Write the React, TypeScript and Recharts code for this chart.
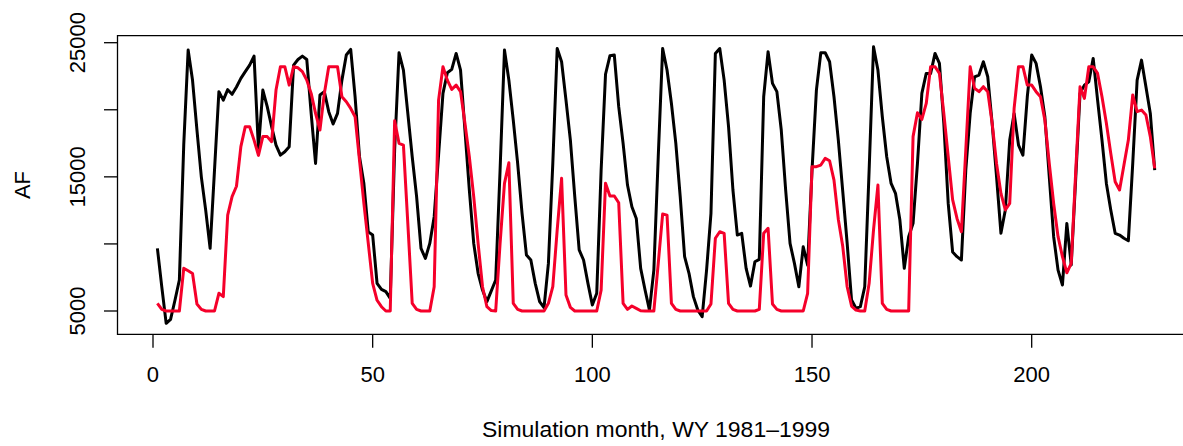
import { LineChart, Line, XAxis, YAxis, ReferenceArea } from 'recharts'

// monthly storage, AF
const blackAF = [
  9670, 6800, 4080, 4380, 5800, 7310, 17400, 24450, 22200, 18500,
  15000, 12500, 9670, 15500, 21350, 20720, 21500, 21150, 21700, 22340,
  22840, 23330, 24000, 17100, 21470, 20230, 18740, 17370, 16620, 16870,
  17250, 23330, 23750, 24000, 23750, 19730, 16000, 21100, 21350, 19860,
  18940, 19730, 22210, 24080, 24500, 20970, 16500, 14500, 10900, 10660,
  7060, 6610, 6440, 5940, 17000, 24250, 22960, 19730, 16500, 13520,
  9670, 8920, 10040, 12030, 16620, 21220, 22760, 23010, 24200, 22960,
  18490, 14020, 10040, 7810, 6560, 5700, 6500, 7310, 15500, 24450,
  22210, 19230, 16000, 12280, 9170, 8800, 7060, 5700, 5250, 8550,
  16000, 24570, 23580, 20720, 17740, 13520, 9550, 8800, 7060, 5450,
  6320, 15500, 22650, 24020, 24080, 20230, 17500, 14390, 12770, 11900,
  8180, 6560, 5070, 8050, 16500, 24570, 22960, 20470, 17500, 13520,
  9050, 7810, 6070, 5070, 4580, 8050, 12280, 24200, 24570, 22210,
  18740, 14020, 10660, 10790, 8180, 6860, 8670, 8850, 20970, 24330,
  21970, 21350, 18490, 14020, 10040, 8550, 6810, 9790, 8420, 15500,
  21470, 24250, 24250, 23580, 20970, 17700, 13900, 10040, 5820, 5200,
  5320, 6810, 15500, 24700, 22960, 19480, 16500, 14510, 13770, 11780,
  8180, 10540, 11530, 16000, 21220, 22710, 22710, 24200, 23460, 18990,
  13020, 9400, 9050, 8800, 15500, 19730, 22460, 22590, 23580, 22460,
  18990, 15010, 10790, 12530, 17740, 19730, 17370, 16620, 20970, 24080,
  23460, 21720, 19480, 15010, 10540, 8050, 6940, 11530, 8430, 14760,
  21220, 21840, 22090, 23830, 20720, 17740, 14510, 12530, 10790, 10660,
  10420, 10240, 16000, 22210, 23700, 21720, 19730, 15510,
]

const redAF = [
  5570, 5120, 5000, 5000, 5000, 5000, 8180, 8000, 7800, 5520,
  5120, 5000, 5000, 5000, 6320, 6070, 12150, 13520, 14300, 17250,
  18740, 18740, 17740, 16600, 18000, 18000, 17620, 21470, 23210, 23210,
  21840, 23210, 23130, 22840, 22210, 21220, 19730, 18490, 21220, 23210,
  23210, 23210, 20970, 20600, 20100, 19480, 16250, 13020, 10040, 7060,
  5800, 5320, 5000, 5000, 19180, 17500, 17370, 11530, 5570, 5120,
  5000, 5000, 5000, 6810, 20720, 23210, 22210, 21520, 21840, 21350,
  18990, 16500, 13520, 10040, 6810, 5320, 5030, 5000, 10040, 14510,
  16050, 5570, 5120, 5000, 5000, 5000, 5000, 5000, 5000, 5570,
  6810, 11040, 14890, 6190, 5270, 5000, 5000, 5000, 5000, 5000,
  5000, 6560, 14530, 13580, 13570, 13070, 5570, 5120, 5370, 5200,
  5020, 5000, 5000, 5000, 8550, 12230, 12150, 5570, 5120, 5000,
  5000, 5000, 5000, 5000, 5000, 5000, 5520, 10420, 10910, 10790,
  5570, 5120, 5000, 5000, 5000, 5000, 5000, 5120, 10790, 11160,
  5520, 5120, 5000, 5000, 5000, 5000, 5000, 5000, 6320, 15760,
  15760, 15880, 16380, 16200, 14760, 11800, 9800, 6810, 5370, 5070,
  5000, 5000, 7060, 11040, 14390, 5570, 5120, 5000, 5000, 5000,
  5000, 5000, 18000, 19780, 19280, 20470, 23210, 23210, 22710, 19730,
  16500, 13300, 11900, 10910, 17000, 23210, 21600, 21350, 21720, 21350,
  18990, 16000, 13770, 12530, 13020, 20100, 23210, 23210, 21840, 21840,
  21350, 20970, 19230, 16000, 13020, 10540, 9050, 7850, 8550, 15260,
  21720, 20850, 23210, 23210, 22710, 20970, 18990, 16750, 14640, 14020,
  15880, 17740, 21100, 19860, 19980, 19610, 18000, 15630,
]

const months = blackAF.map((_, i) => i + 1)
const xTicks = [0, 50, 100, 150, 200]
const yTicks = [5000, 10000, 15000, 20000, 25000]
const yLabelled = [5000, 15000, 25000]
const xTitle = 'Simulation month, WY 1981\u20131999'
const yTitle = 'AF'

const data = months.map((m, i) => ({ month: m, black: blackAF[i], red: redAF[i] }))

const font = '"Liberation Sans", Arial, Helvetica, sans-serif'

const XTick = ({ x, payload }: any) => (
  <text x={x} y={382} textAnchor="middle" fontSize={22} fontFamily={font} fill="#000">
    {payload.value}
  </text>
)

const YTick = ({ y, payload }: any) => {
  if (!yLabelled.includes(payload.value)) return <g />
  return (
    <text
      x={85.5}
      y={y}
      transform={`rotate(-90, 85.5, ${y})`}
      textAnchor="middle"
      fontSize={22}
      fontFamily={font}
      fill="#000"
    >
      {payload.value}
    </text>
  )
}

export default function App() {
  return (
    <div
      style={{
        position: 'absolute',
        left: 0,
        top: 0,
        width: 1183,
        height: 446,
        overflow: 'hidden',
        background: '#fff',
      }}
    >
      <LineChart
        width={1200}
        height={446}
        data={data}
        margin={{ top: 35.7, right: 5.4, bottom: 0, left: 0 }}
      >
        <XAxis
          dataKey="month"
          type="number"
          domain={[-8.08, 237.08]}
          ticks={xTicks}
          allowDataOverflow
          axisLine={false}
          tickLine={{ stroke: '#000', strokeWidth: 1.3 }}
          tickSize={13.5}
          height={111.7}
          tick={<XTick />}
        />
        <YAxis
          type="number"
          domain={[3263, 25522]}
          ticks={yTicks}
          allowDataOverflow
          axisLine={false}
          tickLine={{ stroke: '#000', strokeWidth: 1.3 }}
          tickSize={13.5}
          width={117.5}
          tick={<YTick />}
        />
        <Line
          type="linear"
          dataKey="black"
          stroke="#000"
          strokeWidth={3}
          strokeLinejoin="round"
          dot={false}
          isAnimationActive={false}
        />
        <Line
          type="linear"
          dataKey="red"
          stroke="#f5002a"
          strokeWidth={3}
          strokeLinejoin="round"
          dot={false}
          isAnimationActive={false}
        />
        <ReferenceArea
          x1={-8.08}
          x2={237.08}
          y1={3263}
          y2={25522}
          fill="none"
          stroke="#000"
          strokeWidth={1.3}
          ifOverflow="visible"
        />
      </LineChart>
      <svg
        width={1183}
        height={446}
        style={{ position: 'absolute', left: 0, top: 0, pointerEvents: 'none' }}
      >
        <text
          x={656}
          y={437}
          textAnchor="middle"
          fontSize={22}
          fontFamily={font}
          textLength={348}
          lengthAdjust="spacingAndGlyphs"
          fill="#000"
        >
          {xTitle}
        </text>
        <text
          x={29.5}
          y={185}
          transform="rotate(-90, 29.5, 185)"
          textAnchor="middle"
          fontSize={22}
          fontFamily={font}
          fill="#000"
        >
          {yTitle}
        </text>
      </svg>
    </div>
  )
}
